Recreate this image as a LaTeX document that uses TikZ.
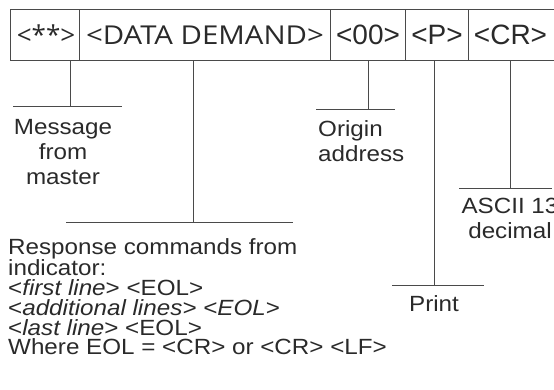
\documentclass[tikz,border=0pt]{standalone}
\usepackage{fontspec}
\setmainfont{Liberation Sans}
\newfontfamily\lblfont{Liberation Sans}[FakeStretch=1.1]
\newfontfamily\hdrfont{Liberation Sans}
\newfontfamily\hdrfontB{Open Sans}
\definecolor{ink}{HTML}{2A2A2A}
\definecolor{rule}{HTML}{4A4A4A}
\begin{document}
\begin{tikzpicture}[x=1pt,y=-1pt,
  cell/.style={draw=rule,line width=1pt,inner sep=0pt,minimum height=51pt,anchor=north west,text=ink},
  hdrA/.style={font=\hdrfontB\fontsize{26}{28}\selectfont},
  hdrB/.style={font=\hdrfont\fontsize{28}{30}\selectfont},
  conn/.style={draw=rule,line width=1pt},
  lbl/.style={inner sep=0pt,text=ink,font=\lblfont\fontsize{22}{25}\selectfont},
  blk/.style={inner sep=0pt,text=ink,align=left,font=\lblfont\fontsize{22}{19.8}\selectfont}]
\useasboundingbox (0,0) rectangle (554,389);
\clip (0,0) rectangle (554,389);
% header cells
\node[cell,hdrA,minimum width=69pt] (b1) at (10,9) {\hspace*{2pt}<**>};
\node[cell,hdrA,minimum width=251pt] (b2) at (79,9) {\scalebox{1.13}[1]{<DATA DEMAND>}};
\node[cell,hdrB,minimum width=75pt] (b3) at (330,9) {<00>};
\node[cell,hdrB,minimum width=63pt] (b4) at (405,9) {<P>};
\node[cell,hdrB,minimum width=90pt] (b5) at (468,9) {<CR>\hspace*{6pt}};
% connector coordinates
\coordinate (t1) at (70,106);  \coordinate (l1) at (13,106);  \coordinate (r1) at (122,106);
\coordinate (t2) at (193,222); \coordinate (l2) at (66,222);  \coordinate (r2) at (293,222);
\coordinate (t3) at (368,109); \coordinate (l3) at (316,109); \coordinate (r3) at (395,109);
\coordinate (t4) at (434,285); \coordinate (l4) at (392,285); \coordinate (r4) at (484,285);
\coordinate (t5) at (510,188); \coordinate (l5) at (459,188); \coordinate (r5) at (552,188);
\draw[conn] (b1.south -| t1) -- (t1);  \draw[conn] (l1) -- (r1);
\draw[conn] (b2.south -| t2) -- (t2);  \draw[conn] (l2) -- (r2);
\draw[conn] (b3.south -| t3) -- (t3);  \draw[conn] (l3) -- (r3);
\draw[conn] (b4.south -| t4) -- (t4);  \draw[conn] (l4) -- (r4);
\draw[conn] (b5.south -| t5) -- (t5);  \draw[conn] (l5) -- (r5);
% labels
\node[lbl,align=center,anchor=north] (m) at (63,119) {Message\\from\\master};
\node[lbl,align=left,anchor=north west] (o) at (318,120) {Origin\\address};
\node[lbl,align=center,anchor=north] (a) at (510,198) {ASCII 13\\decimal};
\node[lbl,anchor=north] (p) at (434,295) {Print};
\node[blk,anchor=north west] (r) at (8,238) {Response commands from\\indicator:\\<\textit{first line}> <EOL>\\<\textit{additional lines> <EOL}>\\<\textit{last line}> <EOL>\\Where EOL = <CR> or <CR> <LF>};
\end{tikzpicture}
\end{document}
